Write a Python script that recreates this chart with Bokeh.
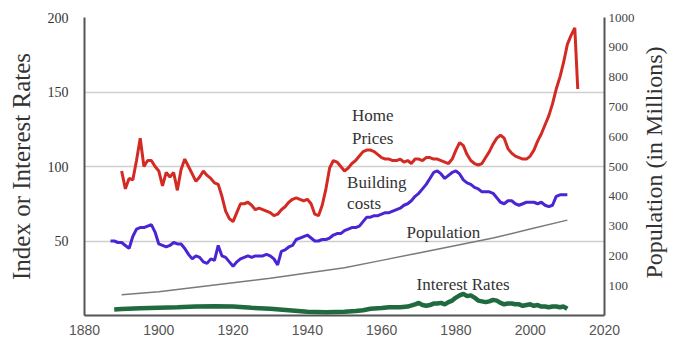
import math
from bokeh.plotting import figure
from bokeh.models import Range1d, LinearAxis, FixedTicker, Label
from bokeh.embed import file_html
from bokeh.resources import INLINE

# ---------------- data ----------------
home_years = list(range(1890, 2013)) + [2012.8]
home_index = [97, 85, 92, 91, 104, 119, 100, 104, 104, 100,
              97, 87, 96, 93, 96, 84, 98, 105, 100, 95,
              90, 93, 97, 94, 92, 89, 88, 80, 70, 65,
              63, 69, 75, 75, 76, 74, 71, 72, 71, 70,
              69, 67, 68, 71, 73, 76, 78, 79, 78, 77,
              78, 75, 68, 67, 74, 85, 99, 104, 103, 100,
              97, 99, 102, 104, 107, 110, 111, 111, 110, 108,
              106, 105, 105, 104, 104, 105, 103, 104, 102, 105,
              105, 104, 106, 106, 105, 105, 104, 103, 102, 105,
              111, 116, 114, 108, 104, 102, 101, 102, 106, 110,
              115, 119, 121, 119, 112, 109, 107, 106, 105, 105,
              107, 111, 117, 122, 128, 134, 142, 152, 160, 170,
              182, 188, 193, 152]

build_years = list(range(1887, 2011))
build_costs = [50, 50, 49, 49, 47, 45, 53, 58, 59, 59,
               60, 61, 56, 48, 47, 46, 47, 49, 48, 48,
               45, 41, 38, 40, 39, 36, 35, 38, 37, 47,
               40, 39, 36, 33, 36, 38, 39, 40, 39, 40,
               40, 40, 41, 40, 38, 34, 43, 44, 46, 47,
               51, 52, 53, 54, 52, 50, 50, 51, 51, 52,
               54, 55, 55, 57, 58, 59, 59, 60, 63, 66,
               66, 67, 67, 68, 69, 69, 70, 71, 72, 74,
               75, 77, 80, 82, 85, 88, 92, 96, 97, 95,
               92, 94, 96, 97, 95, 91, 89, 88, 86, 85,
               83, 83, 83, 82, 79, 76, 75, 77, 77, 75,
               74, 75, 76, 76, 76, 75, 76, 74, 73, 74,
               80, 81, 81, 81]

pop_years = [1890, 1900, 1910, 1920, 1930, 1940, 1950, 1960, 1970, 1980, 1990, 2000, 2010]
pop_millions = [70, 80, 95, 110, 125, 143, 160, 185, 210, 235, 260, 290, 320]

rate_years = [1888, 1890, 1895, 1900, 1905, 1910, 1915, 1920, 1925, 1930, 1935, 1940, 1945,
              1950, 1953, 1955, 1957, 1960, 1962, 1965, 1967, 1969, 1970, 1971, 1972, 1973,
              1974, 1975, 1976, 1977, 1978, 1979, 1980, 1981, 1982, 1983, 1984, 1985, 1986,
              1987, 1988, 1989, 1990, 1991, 1992, 1993, 1994, 1995, 1996, 1997, 1998, 1999,
              2000, 2001, 2002, 2003, 2004, 2005, 2006, 2007, 2008, 2009, 2010]
rate_values = [4, 4.3, 4.8, 5.2, 5.5, 6, 6.2, 6, 5.2, 4.5, 3.5, 2.5, 2.2,
               2.5, 3, 3.5, 4.5, 5, 5.5, 5.5, 6, 7.5, 8.5, 7, 6.5, 7,
               8, 8, 8.5, 7.5, 9, 10, 12, 13.5, 14.5, 13, 13.5, 12, 10,
               9.5, 9, 9.5, 10.5, 10, 8.5, 7.5, 8, 8, 7.5, 7.5, 6.5, 7,
               7.5, 6.5, 7, 6, 6, 5.5, 6, 6, 5.5, 6, 4.5]

x_ticks = [1880, 1900, 1920, 1940, 1960, 1980, 2000, 2020]
left_ticks = [50, 100, 150, 200]
right_ticks = [100, 200, 300, 400, 500, 600, 700, 800, 900, 1000]

left_title = "Index or Interest Rates"
right_title = "Population (in Millions)"

series_labels = [("Home", 1952.0, 134), ("Prices", 1952.0, 119),
                 ("Building", 1950.7, 89), ("costs", 1950.7, 75),
                 ("Population", 1966.7, 56), ("Interest Rates", 1969.4, 21)]

SERIF = "Liberation Serif"

p = figure(width=683, height=340, output_backend="svg", toolbar_location=None,
           x_range=Range1d(1880, 2020), y_range=Range1d(0, 200),
           min_border_left=84, min_border_right=75, min_border_top=17, min_border_bottom=25)
p.background_fill_color = "white"
p.border_fill_color = "white"
p.outline_line_color = None
p.extra_y_ranges = {"pop": Range1d(0, 1000)}

# grid
p.xgrid.visible = False
p.ygrid.grid_line_color = "#cfcfcf"
p.ygrid.grid_line_width = 1.5

# x axis
xa = p.xaxis[0]
xa.ticker = FixedTicker(ticks=x_ticks)
xa.axis_line_color = "#555555"
xa.axis_line_width = 2
xa.major_tick_out = 0
xa.major_tick_in = 0
xa.minor_tick_out = 0
xa.minor_tick_in = 0
xa.major_label_standoff = 9
xa.major_label_text_font = "Liberation Sans"
xa.major_label_text_font_size = "14px"
xa.major_label_text_color = "#555555"

# left axis
ya = p.yaxis[0]
ya.ticker = FixedTicker(ticks=left_ticks)
ya.axis_line_color = "#555555"
ya.axis_line_width = 2
ya.major_tick_out = 0
ya.major_tick_in = 0
ya.minor_tick_out = 0
ya.minor_tick_in = 0
ya.major_label_standoff = 16
ya.major_label_text_font = SERIF
ya.major_label_text_font_size = "14px"
ya.major_label_text_color = "#333333"
ya.axis_label = left_title
ya.axis_label_text_font = SERIF
ya.axis_label_text_font_style = "normal"
ya.axis_label_text_font_size = "25px"
ya.axis_label_text_color = "#333333"
ya.axis_label_standoff = 10

# right axis (ticks)
ra = LinearAxis(y_range_name="pop", ticker=FixedTicker(ticks=right_ticks))
ra.axis_line_color = "#555555"
ra.axis_line_width = 2
ra.major_tick_out = 0
ra.major_tick_in = 0
ra.minor_tick_out = 0
ra.minor_tick_in = 0
ra.major_label_standoff = 4
ra.major_label_text_font = SERIF
ra.major_label_text_font_size = "13px"
ra.major_label_text_color = "#444444"
p.add_layout(ra, "right")

# right title: an outer axis whose single label reads bottom to top
title_anchor = 124
rt = LinearAxis(y_range_name="pop", ticker=FixedTicker(ticks=[title_anchor]),
                major_label_overrides={title_anchor: right_title})
rt.axis_line_color = None
rt.major_tick_out = 0
rt.major_tick_in = 0
rt.minor_tick_out = 0
rt.minor_tick_in = 0
rt.major_label_orientation = math.pi / 2
rt.major_label_standoff = 17
rt.major_label_text_font = SERIF
rt.major_label_text_font_size = "24px"
rt.major_label_text_color = "#333333"
p.add_layout(rt, "right")

# series
p.line(pop_years, pop_millions, y_range_name="pop", line_color="#7a7a7a", line_width=1.5)
p.line(rate_years, rate_values, line_color="#1f6b3f", line_width=4.5)
p.line(build_years, build_costs, line_color="#4a25d4", line_width=3)
p.line(home_years, home_index, line_color="#d42a24", line_width=3)

for txt, lx, ly in series_labels:
    p.add_layout(Label(x=lx, y=ly, text=txt, text_font=SERIF, text_font_size="17px",
                       text_color="#333333", text_baseline="middle", text_align="left"))

open("out.html", "w").write(file_html(p, INLINE))
